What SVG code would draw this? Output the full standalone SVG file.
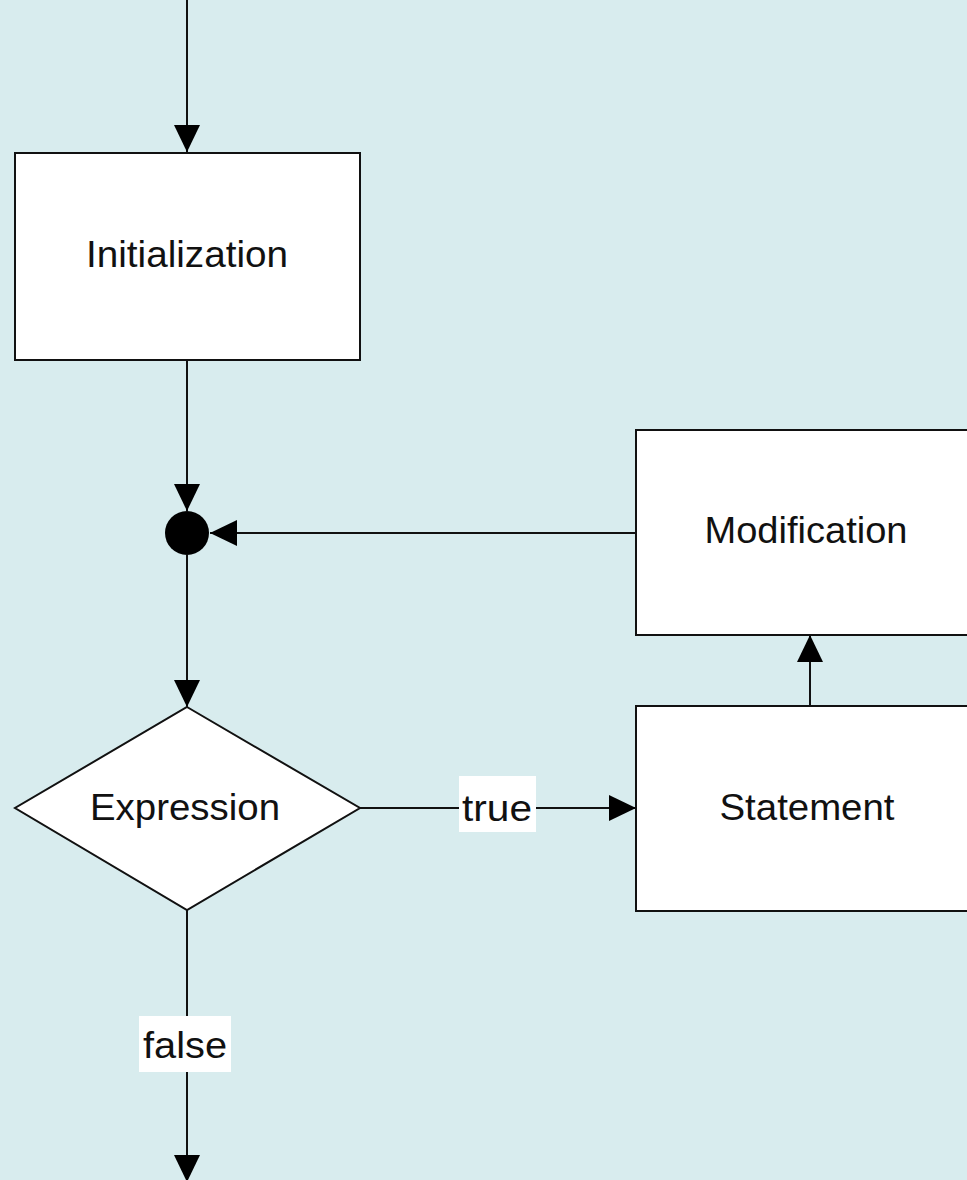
<svg xmlns="http://www.w3.org/2000/svg" width="967" height="1180" viewBox="0 0 967 1180">
<defs>
<style>
.box{fill:#fff;stroke:#111;stroke-width:2}
.ln{fill:none;stroke:#111;stroke-width:2}
.t{font-family:"Liberation Sans",Arial,sans-serif;font-size:37px;fill:#111;text-anchor:middle}
.lbl{fill:#fff}
</style>
<marker id="ah" markerUnits="userSpaceOnUse" markerWidth="28" markerHeight="28" refX="27" refY="13" orient="auto" viewBox="0 0 28 26">
<path d="M0,0 L27,13 L0,26 Z" fill="#000"/>
</marker>
</defs>
<rect width="967" height="1180" fill="#d8ecee"/>
<g id="connectors">
<line class="ln" x1="187" y1="0" x2="187" y2="152" marker-end="url(#ah)"/>
<line class="ln" x1="187" y1="360" x2="187" y2="511" marker-end="url(#ah)"/>
<line class="ln" x1="636" y1="533" x2="210" y2="533" marker-end="url(#ah)"/>
<line class="ln" x1="187" y1="555" x2="187" y2="707" marker-end="url(#ah)"/>
<line class="ln" x1="360" y1="808" x2="636" y2="808" marker-end="url(#ah)"/>
<line class="ln" x1="810" y1="706" x2="810" y2="635" marker-end="url(#ah)"/>
<line class="ln" x1="187" y1="910" x2="187" y2="1182" marker-end="url(#ah)"/>
<g id="label-true">
<rect class="lbl" x="459" y="776" width="77" height="56"/>
<text class="t" x="497" y="821" textLength="70" lengthAdjust="spacingAndGlyphs">true</text>
</g>
<g id="label-false">
<rect class="lbl" x="139" y="1016" width="92" height="56"/>
<text class="t" x="185" y="1058" textLength="84" lengthAdjust="spacingAndGlyphs">false</text>
</g>
</g>
<g id="initialization">
<rect class="box" x="15" y="153" width="345" height="207"/>
<text class="t" x="187" y="267" textLength="202" lengthAdjust="spacingAndGlyphs">Initialization</text>
</g>
<g id="junction">
<circle cx="187" cy="533" r="22" fill="#000"/>
</g>
<g id="expression">
<polygon class="box" points="187,707 360,808 187,910 15,808"/>
<text class="t" x="185" y="820" textLength="190" lengthAdjust="spacingAndGlyphs">Expression</text>
</g>
<g id="modification">
<rect class="box" x="636" y="430" width="340" height="205"/>
<text class="t" x="806" y="543" textLength="203" lengthAdjust="spacingAndGlyphs">Modification</text>
</g>
<g id="statement">
<rect class="box" x="636" y="706" width="340" height="205"/>
<text class="t" x="807" y="820" textLength="175" lengthAdjust="spacingAndGlyphs">Statement</text>
</g>
</svg>
